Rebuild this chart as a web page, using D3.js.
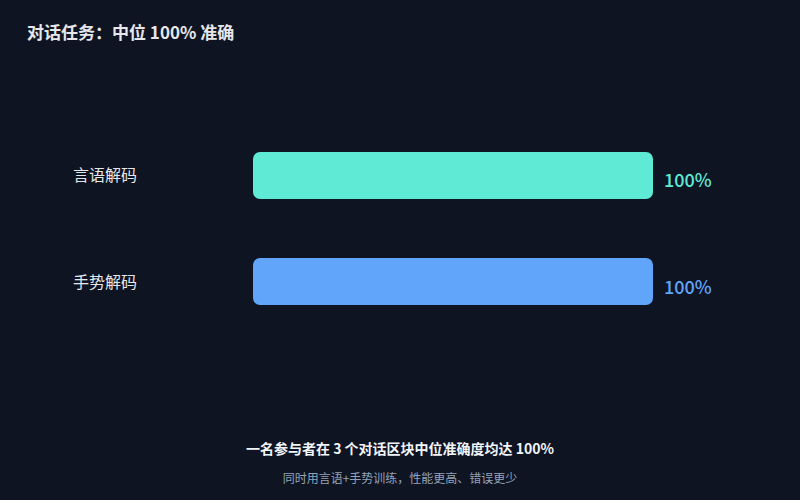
<!DOCTYPE html>
<html>
<head>
<meta charset="utf-8">
<script src="https://cdn.jsdelivr.net/npm/d3@7"></script>
<style>
  html, body { margin: 0; padding: 0; background: #0f1423; }
  svg text { font-family: "Noto Sans CJK SC", "Noto Sans", sans-serif; }
</style>
</head>
<body>
<svg id="chart"></svg>
<script>
// Data
const categories = ["言语解码", "手势解码"];
const accuracy = [100, 100];
const barColors = ["#5eead4", "#60a5fa"];
const valueLabels = ["100%", "100%"];

const title = "对话任务：中位 100% 准确";
const footnote = "一名参与者在 3 个对话区块中位准确度均达 100%";
const subnote = "同时用言语+手势训练，性能更高、错误更少";

// Dimensions
const svg_width = 800;
const svg_height = 500;

const svg = d3.select("#chart")
    .attr("width", svg_width)
    .attr("height", svg_height);

svg.append("rect")
    .attr("width", svg_width)
    .attr("height", svg_height)
    .attr("fill", "#0f1423");

// Scales
const xScale = d3.scaleLinear()
    .domain([0, 100])
    .range([253, 653]);

const yScale = d3.scaleBand()
    .domain(categories)
    .range([93, 364])
    .padding(0.5566);

const rows = categories.map((c, i) => ({
    cat: c, value: accuracy[i], color: barColors[i], label: valueLabels[i]
}));

// Title
svg.append("text")
    .attr("x", 27)
    .attr("y", 39)
    .attr("fill", "#e5e7eb")
    .attr("font-size", 17)
    .attr("font-weight", 700)
    .text(title);

// Bars
svg.selectAll("rect.bar")
    .data(rows)
    .enter()
    .append("rect")
    .attr("class", "bar")
    .attr("x", xScale(0))
    .attr("y", d => yScale(d.cat))
    .attr("width", d => xScale(d.value) - xScale(0))
    .attr("height", yScale.bandwidth())
    .attr("rx", 7)
    .attr("fill", d => d.color);

// Category labels
svg.selectAll("text.cat")
    .data(rows)
    .enter()
    .append("text")
    .attr("class", "cat")
    .attr("x", 73)
    .attr("y", d => yScale(d.cat) + yScale.bandwidth() / 2 + 6)
    .attr("fill", "#e5e7eb")
    .attr("font-size", 16)
    .text(d => d.cat);

// Value labels
svg.selectAll("text.val")
    .data(rows)
    .enter()
    .append("text")
    .attr("class", "val")
    .attr("x", d => xScale(d.value) + 11)
    .attr("y", d => yScale(d.cat) + yScale.bandwidth() / 2 + 12)
    .attr("fill", d => d.color)
    .attr("font-size", 18)
    .attr("font-weight", 500)
    .text(d => d.label);

// Footnotes
svg.append("text")
    .attr("x", 400)
    .attr("y", 454)
    .attr("text-anchor", "middle")
    .attr("fill", "#f1f5f9")
    .attr("font-size", 14)
    .attr("font-weight", 700)
    .text(footnote);

svg.append("text")
    .attr("x", 400)
    .attr("y", 483)
    .attr("text-anchor", "middle")
    .attr("fill", "#94a3b8")
    .attr("font-size", 12)
    .text(subnote);
</script>
</body>
</html>
